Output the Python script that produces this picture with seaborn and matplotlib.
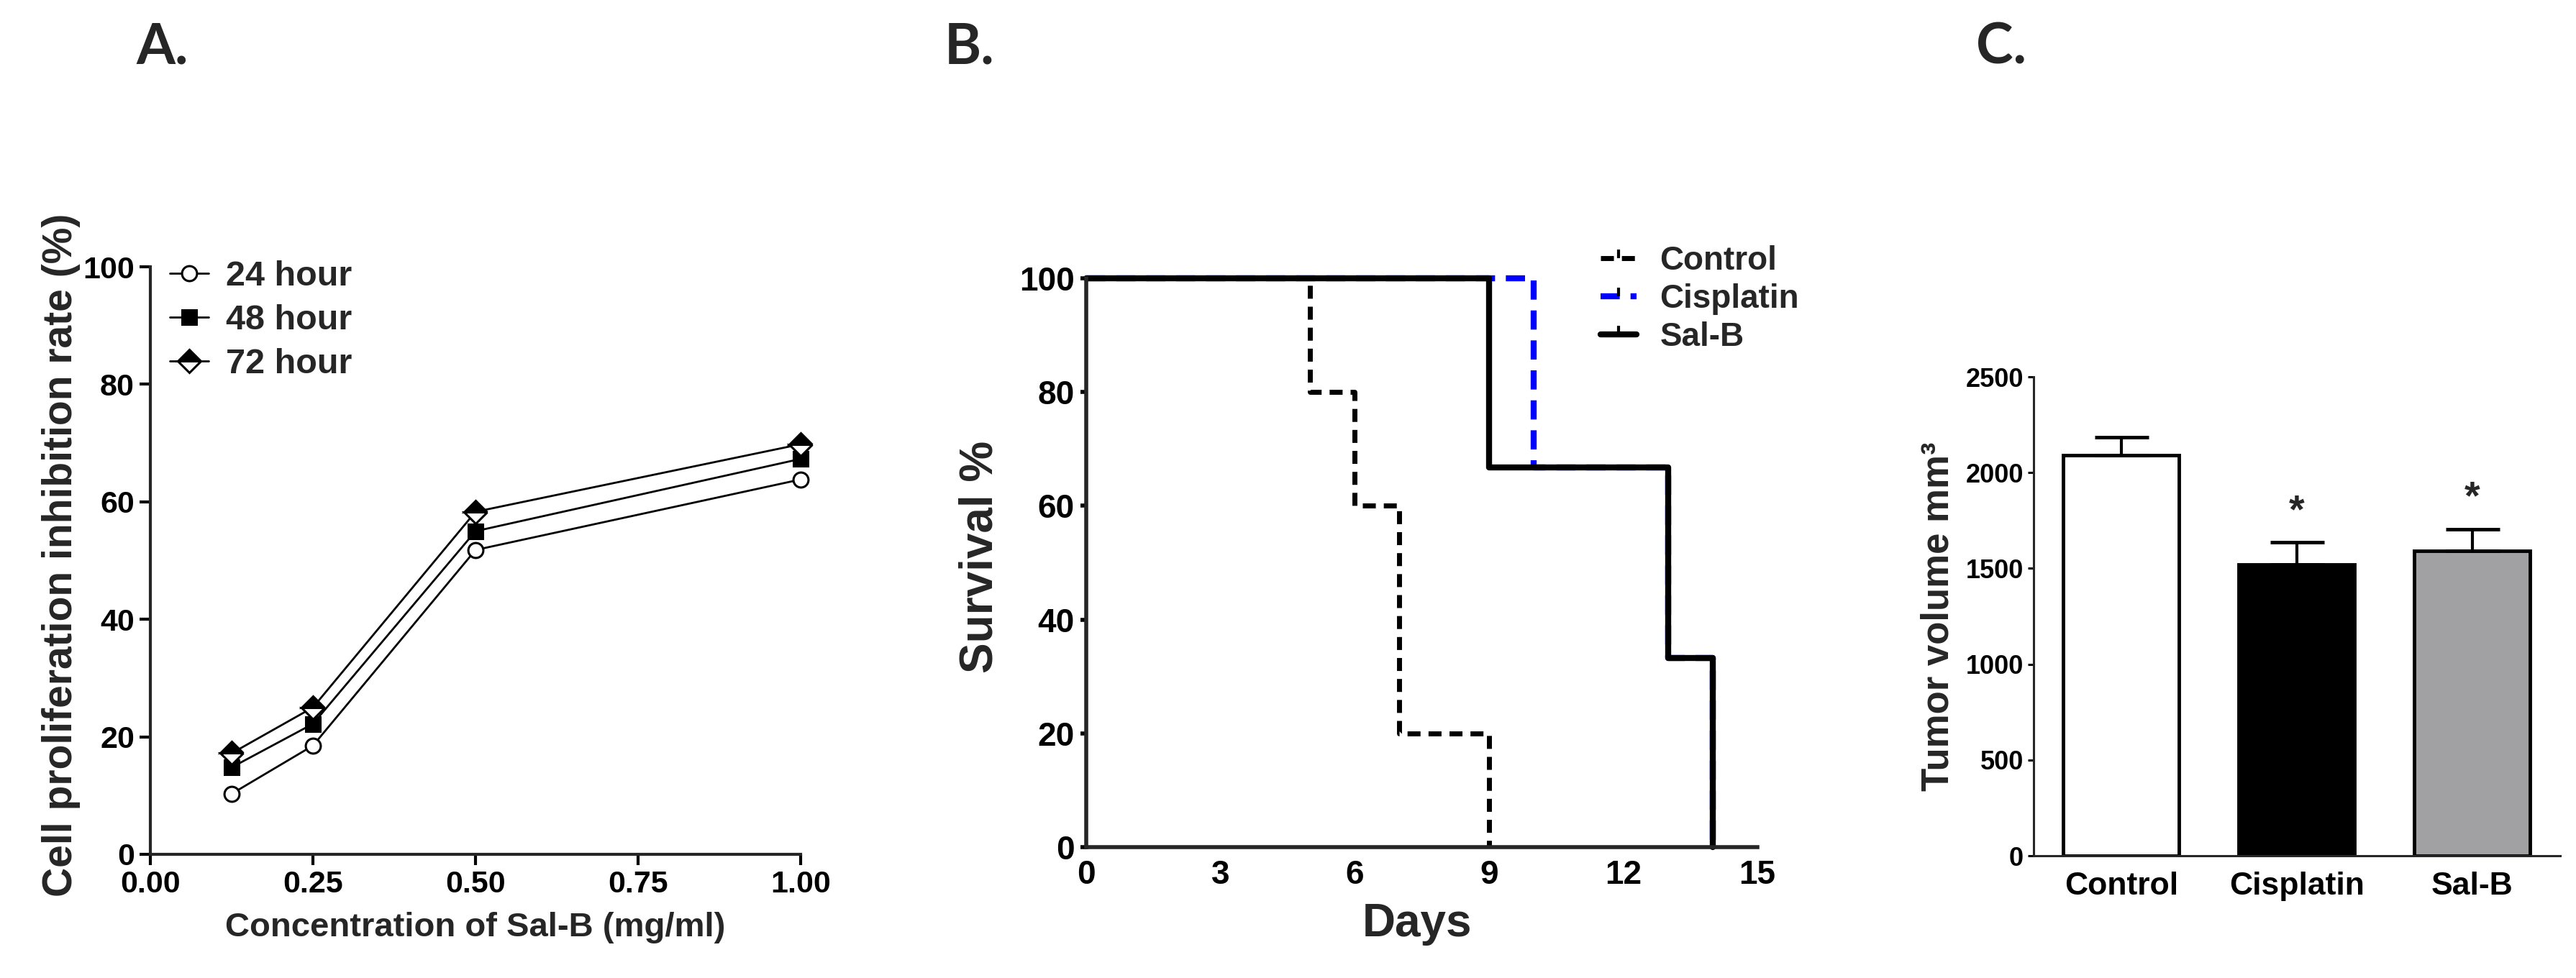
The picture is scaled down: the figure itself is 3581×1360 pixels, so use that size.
import numpy as np
import pandas as pd
import matplotlib
matplotlib.use("Agg")
import matplotlib.pyplot as plt
import seaborn as sns
from matplotlib.lines import Line2D
from matplotlib.ticker import FormatStrFormatter

# ---------------- data ----------------
# Panel A
concentrations = [0.125, 0.25, 0.5, 1.0]
inhibition_24h = [10.3, 18.5, 51.8, 63.8]
inhibition_48h = [14.8, 22.2, 55.0, 67.3]
inhibition_72h = [17.2, 25.0, 58.3, 69.8]
time_labels = ["24 hour", "48 hour", "72 hour"]
conc_ticks = [0.0, 0.25, 0.5, 0.75, 1.0]
rate_ticks = [0, 20, 40, 60, 80, 100]

# Panel B
survival_groups = ["Control", "Cisplatin", "Sal-B"]
control_days = [0, 5, 6, 7, 9]
control_surv = [100, 80, 60, 20, 0]
cisplatin_days = [0, 10, 13, 14]
cisplatin_surv = [100, 66.7, 33.3, 0]
salb_days = [0, 9, 13, 14]
salb_surv = [100, 66.7, 33.3, 0]
day_ticks = [0, 3, 6, 9, 12, 15]
surv_ticks = [0, 20, 40, 60, 80, 100]

# Panel C
tumor_groups = ["Control", "Cisplatin", "Sal-B"]
tumor_volume = [2090, 1520, 1590]
tumor_sem = [95, 115, 115]
significance = ["", "*", "*"]
volume_ticks = [0, 500, 1000, 1500, 2000, 2500]

# ---------------- style ----------------
sns.set_theme(style="ticks")
plt.rcParams["font.family"] = ["Liberation Sans", "DejaVu Sans"]
plt.rcParams["font.weight"] = "bold"
plt.rcParams["axes.labelweight"] = "bold"

fig = plt.figure(figsize=(35.81, 13.6), dpi=100)

# ---------------- Panel A ----------------
axA = fig.add_axes([0.0584, 0.1265, 0.2524, 0.6007])
common = dict(ax=axA, color="black", linewidth=2, errorbar=None, clip_on=False,
              markeredgecolor="black", markeredgewidth=2.2)
sns.lineplot(x=concentrations, y=inhibition_24h, marker="o", markersize=15,
             markerfacecolor="white", label=time_labels[0], **common)
sns.lineplot(x=concentrations, y=inhibition_48h, marker="s", markersize=14,
             markerfacecolor="black", label=time_labels[1], **common)
sns.lineplot(x=concentrations, y=inhibition_72h, marker="D", markersize=16,
             fillstyle="top", markerfacecolor="black", markerfacecoloralt="white",
             label=time_labels[2], **common)
axA.set_xlim(0, 1.0)
axA.set_ylim(0, 100)
axA.set_xticks(conc_ticks)
axA.set_yticks(rate_ticks)
axA.xaxis.set_major_formatter(FormatStrFormatter("%.2f"))
sns.despine(ax=axA)
for s in ["left", "bottom"]:
    axA.spines[s].set_linewidth(3)
axA.tick_params(axis="both", labelsize=31, width=3, length=11, pad=5, colors="black")
for lab in axA.get_xticklabels() + axA.get_yticklabels():
    lab.set_fontweight("bold")
axA.set_xlabel("Concentration of Sal-B (mg/ml)", fontsize=34, fontweight="bold")
axA.set_ylabel("Cell proliferation inhibition rate (%)", fontsize=41, fontweight="bold")
axA.xaxis.set_label_coords(0.5, -0.098)
axA.yaxis.set_label_coords(-0.107, 0.51)
axA.legend(loc="upper left", bbox_to_anchor=(0.066, 0.734), bbox_transform=fig.transFigure,
           frameon=False, handlelength=1.1, handletextpad=0.5,
           labelspacing=0.33, borderpad=0, borderaxespad=0,
           prop={"weight": "bold", "size": 35})

# ---------------- Panel B ----------------
axB = fig.add_axes([0.4217, 0.1338, 0.2605, 0.5816])
sns.lineplot(x=cisplatin_days, y=cisplatin_surv, ax=axB, color="#0000ff", linewidth=6,
             drawstyle="steps-post", linestyle=(0, (3.2, 1.8)), errorbar=None, clip_on=False)
sns.lineplot(x=salb_days, y=salb_surv, ax=axB, color="black", linewidth=6,
             drawstyle="steps-post", errorbar=None, clip_on=False)
sns.lineplot(x=control_days, y=control_surv, ax=axB, color="black", linewidth=5,
             drawstyle="steps-post", linestyle=(0, (2.6, 1.6)), errorbar=None, clip_on=False)
axB.set_xlim(0, 15)
axB.set_ylim(0, 100)
axB.set_xticks(day_ticks)
axB.set_yticks(surv_ticks)
sns.despine(ax=axB)
for s in ["left", "bottom"]:
    axB.spines[s].set_linewidth(4)
axB.tick_params(axis="both", labelsize=33, width=4, colors="black")
axB.tick_params(axis="x", length=0, pad=12)
axB.tick_params(axis="y", length=6, pad=6)
for lab in axB.get_xticklabels() + axB.get_yticklabels():
    lab.set_fontweight("bold")
axB.set_xlabel("Days", fontsize=46, fontweight="bold")
axB.set_ylabel("Survival %", fontsize=46, fontweight="bold")
axB.xaxis.set_label_coords(0.493, -0.097)
axB.yaxis.set_label_coords(-0.126, 0.51)
styles_B = [dict(color="black", linestyle=(0, (2.6, 1.6)), lw=5),
            dict(color="#0000ff", linestyle=(0, (3.2, 1.8)), lw=6),
            dict(color="black", linestyle="-", lw=6)]
handles_B = [Line2D([], [], marker=2, markersize=9, markeredgewidth=3,
                    markeredgecolor="black", **st) for st in styles_B]
axB.legend(handles_B, survival_groups, loc="upper left", bbox_to_anchor=(0.6213, 0.7493),
           bbox_transform=fig.transFigure, frameon=False, handlelength=1.1,
           handletextpad=0.7, labelspacing=0.2, borderpad=0, borderaxespad=0,
           prop={"weight": "bold", "size": 33})

# ---------------- Panel C ----------------
axC = fig.add_axes([0.7894, 0.125, 0.2044, 0.4897])
dfC = pd.DataFrame({"group": tumor_groups, "volume": tumor_volume})
sns.barplot(data=dfC, x="group", y="volume", hue="group",
            palette=["white", "black", "#a0a1a5"], edgecolor="black", linewidth=3.5,
            width=0.66, errorbar=None, legend=False, ax=axC)
axC.errorbar(x=np.arange(len(tumor_groups)), y=tumor_volume,
             yerr=[np.zeros(len(tumor_sem)), tumor_sem], fmt="none", ecolor="black",
             elinewidth=3, capsize=27, capthick=3.5, zorder=1)
for i, (v, e, sig) in enumerate(zip(tumor_volume, tumor_sem, significance)):
    if sig:
        axC.text(i, v + e + 160, sig, ha="center", va="center", fontsize=40,
                 fontweight="bold")
axC.set_xlim(-0.5, 2.5)
axC.set_ylim(0, 2500)
axC.set_yticks(volume_ticks)
sns.despine(ax=axC)
for s in ["left", "bottom"]:
    axC.spines[s].set_linewidth(2.2)
axC.tick_params(axis="y", labelsize=26, width=2.2, length=6, pad=4, colors="black")
axC.tick_params(axis="x", labelsize=32, length=0, pad=16, colors="black")
for lab in axC.get_xticklabels() + axC.get_yticklabels():
    lab.set_fontweight("bold")
axC.set_xlabel("")
axC.set_ylabel("Tumor volume mm\u00b3", fontsize=38, fontweight="bold")
axC.yaxis.set_label_coords(-0.146, 0.5)

# ---------------- Panel labels ----------------
for x, t in [(0.053, "A."), (0.3667, "B."), (0.767, "C.")]:
    fig.text(x, 0.935, t, fontsize=56, fontweight="bold", va="baseline", ha="left",
             family=["Lato", "Liberation Sans", "DejaVu Sans"])

fig.savefig("out.png", dpi=100)
